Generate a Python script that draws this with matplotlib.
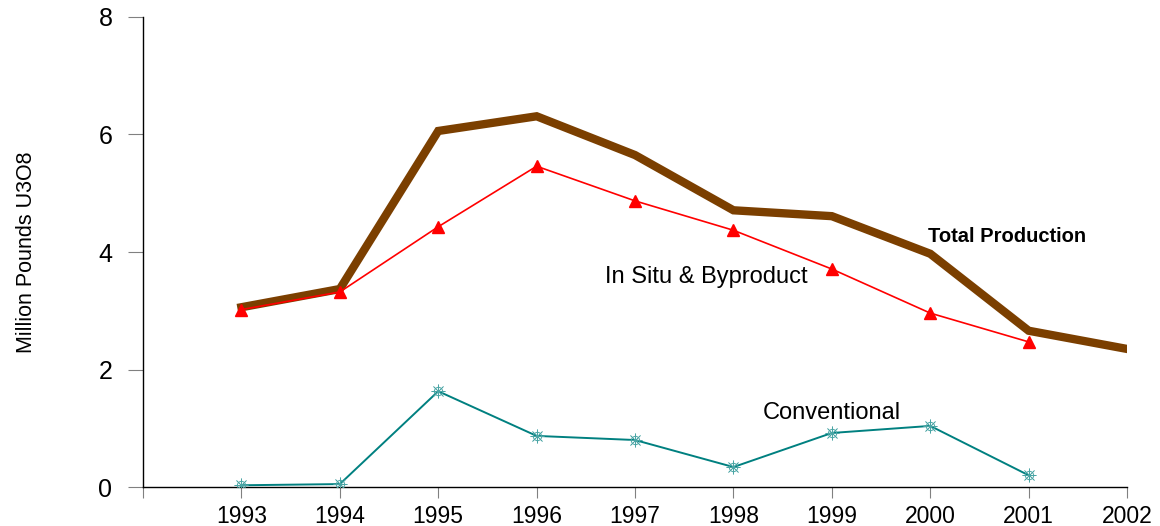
import matplotlib.pyplot as plt

plt.rcParams['font.family'] = ['Liberation Sans', 'DejaVu Sans']

# data
years = [1993, 1994, 1995, 1996, 1997, 1998, 1999, 2000, 2001, 2002]
total = [3.06, 3.37, 6.06, 6.31, 5.65, 4.71, 4.61, 3.97, 2.66, 2.35]
in_situ_years = years[:-1]
in_situ = [3.02, 3.32, 4.43, 5.46, 4.87, 4.37, 3.71, 2.96, 2.47]
conv_years = years[:-1]
conventional = [0.03, 0.05, 1.63, 0.87, 0.80, 0.34, 0.92, 1.04, 0.20]

fig = plt.figure(figsize=(11.6, 5.26), dpi=100)
ax = fig.add_axes([0.1233, 0.0741, 0.8483, 0.8936])

ax.plot(years, total, color='#7B3F00', lw=6, solid_joinstyle='miter', zorder=2)
ax.plot(in_situ_years, in_situ, color='red', lw=1.2, marker='^', ms=9, zorder=3)
ax.plot(conv_years, conventional, color='#008080', lw=1.4, zorder=3)
ax.plot(conv_years, conventional, ls='none', marker='o', ms=6, mfc='none',
        mec='#4aa5a5', mew=0.7, zorder=4)
ax.plot(conv_years, conventional, ls='none', marker=(8, 2, 0), ms=10,
        mec='#4aa5a5', mew=0.5, zorder=4)

ax.text(1999.98, 4.27, 'Total Production', fontsize=14.5, fontweight='bold', va='center')
ax.text(1996.69, 3.57, 'In Situ & Byproduct', fontsize=17, va='center')
ax.text(1998.30, 1.26, 'Conventional', fontsize=17, va='center')

ax.set_xlim(1992, 2002)
ax.set_ylim(0, 8)
ax.set_xticks([1992] + years)
ax.set_xticklabels([''] + [str(y) for y in years])
ax.set_yticks([0, 2, 4, 6, 8])
ax.tick_params(axis='x', direction='out', length=8, color='gray',
               labelsize=16.5, pad=5)
ax.tick_params(axis='y', direction='out', length=11, color='gray',
               labelsize=18, pad=11)
ax.set_ylabel('Million Pounds U3O8', fontsize=15.5, labelpad=44)
for s in ['top', 'right']:
    ax.spines[s].set_visible(False)
ax.spines['left'].set_linewidth(1)
ax.spines['bottom'].set_linewidth(1)
ax.spines['left'].set_bounds(0, 8)

fig.savefig('out.png', dpi=100)
